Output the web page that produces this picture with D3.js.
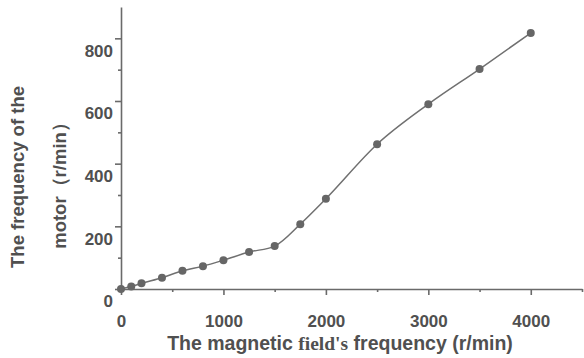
<!DOCTYPE html>
<html><head><meta charset="utf-8">
<script src="https://cdn.jsdelivr.net/npm/d3@7"></script>
<style>body{margin:0;background:#fff}</style>
</head><body>
<svg id="c" width="584" height="358"></svg>
<script>
const fieldFreq = [0, 100, 200, 400, 600, 800, 1000, 1250, 1500, 1750, 2000, 2500, 3000, 3500, 4000];
const motorFreq = [0, 8, 18, 36, 58, 73, 92, 118, 137, 207, 288, 462, 590, 702, 817];
const xMajorTicks = [0, 1000, 2000, 3000, 4000];
const xMinorTicks = [500, 1500, 2500, 3500, 4500];
const yMajorTicks = [0, 200, 400, 600, 800];
const yMinorTicks = [100, 300, 500, 700];
const yLabelLines = ["The frequency of the", "motor（r/min）"];
const xLabelParts = ["The magnetic ", "field's", " frequency (r/min)"];

const svg = d3.select("#c");
const x = d3.scaleLinear().domain([0, 4500]).range([121, 582]);
const y = d3.scaleLinear().domain([0, 900]).range([289, 7]);
const axisColor = "#6a6a6a", textColor = "#505050";
const font = "Liberation Sans, Arial, sans-serif";

// X axis
const gx = svg.append("g").attr("transform", `translate(0,${y(0)})`)
  .call(d3.axisBottom(x).tickValues(xMajorTicks).tickSize(6).tickSizeOuter(0).tickFormat(d3.format("d")));
svg.append("g").attr("transform", `translate(0,${y(0)})`)
  .call(d3.axisBottom(x).tickValues(xMinorTicks).tickSize(3).tickSizeOuter(0).tickFormat(""))
  .select(".domain").remove();
// Y axis
const gy = svg.append("g").attr("transform", `translate(${x(0)},0)`)
  .call(d3.axisLeft(y).tickValues(yMajorTicks).tickSize(6).tickSizeOuter(0).tickFormat(d3.format("d")));
svg.append("g").attr("transform", `translate(${x(0)},0)`)
  .call(d3.axisLeft(y).tickValues(yMinorTicks).tickSize(3).tickSizeOuter(0).tickFormat(""))
  .select(".domain").remove();

svg.selectAll(".domain, .tick line").attr("stroke", axisColor).attr("stroke-width", 1.6);
svg.selectAll(".tick text").attr("fill", textColor).attr("font-family", font)
  .attr("font-size", 17).attr("font-weight", "bold");
gx.selectAll(".tick text").attr("dy", "1.72em");
gy.selectAll(".tick text").attr("dy", "1.05em").attr("x", -8);

// Line
const line = d3.line().x((d, i) => x(fieldFreq[i])).y(d => y(d)).curve(d3.curveMonotoneX);
svg.append("path").datum(motorFreq).attr("d", line)
  .attr("fill", "none").attr("stroke", "#707070").attr("stroke-width", 1.5);
svg.selectAll("circle.pt").data(motorFreq).enter().append("circle")
  .attr("class", "pt")
  .attr("cx", (d, i) => x(fieldFreq[i])).attr("cy", d => y(d)).attr("r", 4)
  .attr("fill", "#666");

// Y label
const yl = svg.append("text").attr("transform", "translate(24,177) rotate(-90)")
  .attr("text-anchor", "middle").attr("fill", textColor).attr("font-family", font)
  .attr("font-size", 18.5).attr("font-weight", "bold");
yl.append("tspan").attr("x", 0).attr("dy", 0).text(yLabelLines[0]);
yl.append("tspan").attr("x", -4).attr("dy", 42).text(yLabelLines[1]);

// X label
const xl = svg.append("text").attr("x", 340).attr("y", 350)
  .attr("text-anchor", "middle").attr("fill", textColor).attr("font-family", font)
  .attr("font-size", 19.5).attr("font-weight", "bold");
xl.append("tspan").text(xLabelParts[0]);
xl.append("tspan").attr("font-family", "Liberation Serif, Times New Roman, serif").text(xLabelParts[1]);
xl.append("tspan").text(xLabelParts[2]);
</script>
</body></html>
